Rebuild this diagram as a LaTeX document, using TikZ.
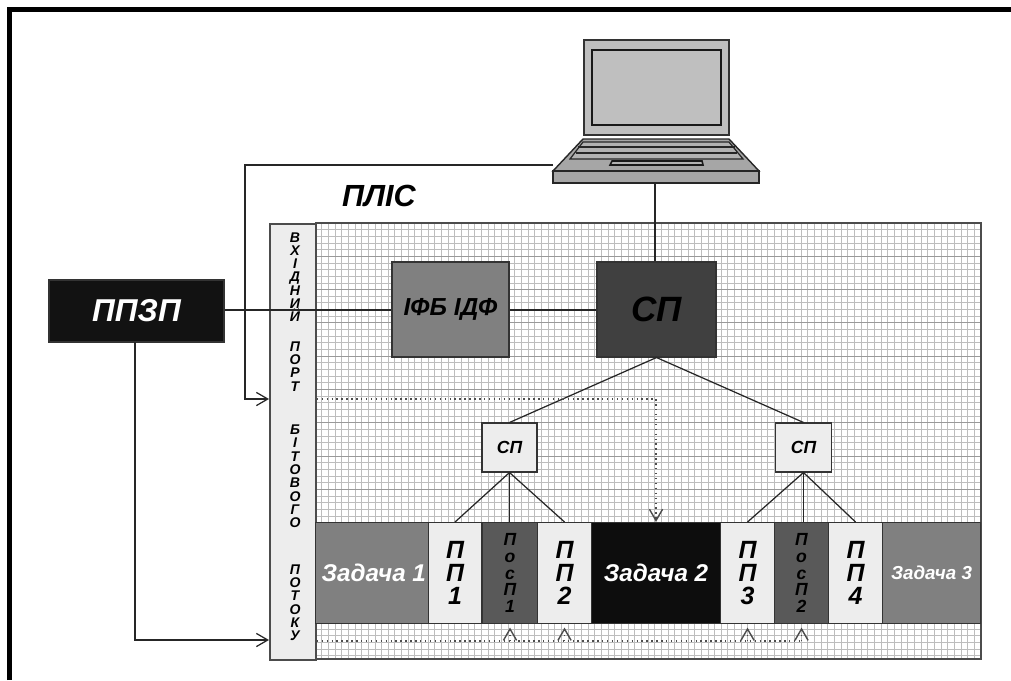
\documentclass[tikz,border=0pt]{standalone}
\usepackage{fontspec}
\setmainfont{Liberation Sans}
\usepackage{xcolor}
\usetikzlibrary{arrows.meta}
\definecolor{gridc}{gray}{0.74}
\definecolor{gridd}{gray}{0.6}
\tikzset{
blockbox/.style={draw=black!80,line width=0.6pt,inner sep=0pt,align=center,font=\bfseries\itshape},
lightbox/.style={blockbox,fill=black!7},
ppbox/.style={lightbox,minimum height=2.02cm,font=\fontsize{14.2}{13.2}\selectfont\bfseries\itshape,anchor=north west},
posbox/.style={blockbox,fill=black!65,minimum height=2.02cm,font=\fontsize{10}{9.6}\selectfont\bfseries\itshape,anchor=north west},
wire/.style={line width=0.7pt,draw=black!85},
dotline/.style={line width=0.8pt,draw=black!70,dotted},
opentip/.style={-{Straight Barb[length=6.5pt,width=7.5pt]}}
}
\begin{document}
\begin{tikzpicture}[x=0.02cm,y=-0.02cm]
\useasboundingbox (0,0) rectangle (1011,680);
\fill[white](0,0) rectangle (1011,680);
\draw[line width=3pt,black](9.5,680)--(9.5,9.5)--(1011,9.5);
% grid
\foreach \i in {0,...,100}
 \draw[gridc,line width=0.5pt](315+\i*6.66,223)--(315+\i*6.66,659);
\foreach \j in {0,...,65}
 \draw[gridc,line width=0.5pt](315,223+\j*6.66)--(981,223+\j*6.66);
\foreach \j in {5,10,...,60}
 \draw[gridd,line width=0.5pt](315,223+\j*6.66)--(981,223+\j*6.66);
\draw[black!70,line width=1pt](315,223)--(981,223)--(981,659)--(269,659);
% port
\node[lightbox,minimum width=0.92cm,minimum height=8.72cm,anchor=north west,draw=black!70,line width=1pt] (port) at (269,223) {};
\node[font=\fontsize{8}{7.56}\selectfont\bfseries\itshape,align=center,inner sep=0pt,anchor=north] (portname) at (295,232)
{В\\Х\\І\\Д\\Н\\И\\Й\\[9.2pt]П\\О\\Р\\Т\\[17.3pt]Б\\І\\Т\\О\\В\\О\\Г\\О\\[19pt]П\\О\\Т\\О\\К\\У};
% laptop
\draw[fill=black!25,draw=black!80,line width=0.8pt](584,40) rectangle (729,135);
\draw[fill=black!25,draw=black!90,line width=1pt](592,50) rectangle (721,125);
\draw[fill=black!35,draw=black!85,line width=0.8pt](583,139)--(729,139)--(759,171)--(553,171)--cycle;
\draw[fill=black!35,draw=black!85,line width=0.8pt](553,171) rectangle (759,183);
\draw[fill=black!30,draw=black!85,line width=0.7pt](583,142)--(729,142)--(743,159)--(570,159)--cycle;
\draw[draw=black!85,line width=1.1pt](578,147)--(735,147);
\draw[draw=black!85,line width=1.6pt](576,153)--(737,153);
\draw[fill=black!30,draw=black!90,line width=0.9pt](610,165)--(703,165)--(702,161)--(612,161)--cycle;
\coordinate (lapleft) at (553,165);
\coordinate (lapbot) at (655,183);
% blocks
\node[blockbox,fill=black!93,text=white,minimum width=3.5cm,minimum height=1.24cm,font=\fontsize{18}{20}\selectfont\bfseries\itshape] (ppzp) at (136.5,311) {ППЗП};
\node[blockbox,fill=black!50,minimum width=2.34cm,minimum height=1.9cm,font=\fontsize{14}{16}\selectfont\bfseries\itshape] (ifb) at (450.5,309.5) {ІФБ ІДФ};
\node[blockbox,fill=black!75,minimum width=2.38cm,minimum height=1.9cm,font=\fontsize{20}{24}\selectfont\bfseries\itshape] (spmain) at (656.5,309.5) {СП};
\node[lightbox,minimum width=1.1cm,minimum height=0.98cm,font=\fontsize{10}{12}\selectfont\bfseries\itshape] (spleft) at (509.5,447.5) {СП};
\node[lightbox,minimum width=1.12cm,minimum height=0.98cm,font=\fontsize{10}{12}\selectfont\bfseries\itshape] (spright) at (803.5,447.5) {СП};
% row of tasks
\node[blockbox,fill=black!50,text=white,minimum width=2.26cm,minimum height=2.02cm,font=\fontsize{13.8}{16}\selectfont\bfseries\itshape,anchor=north west] (task1) at (315,522) {\hspace{2pt}Задача 1};
\node[ppbox,minimum width=1.06cm] (pp1) at (428,522) {П\\П\\1};
\node[posbox,minimum width=1.1cm] (pos1) at (482,522) {П\\о\\с\\П\\1};
\node[ppbox,minimum width=1.08cm] (pp2) at (537,522) {П\\П\\2};
\node[blockbox,fill=black!95,text=white,minimum width=2.58cm,minimum height=2.02cm,font=\fontsize{13.8}{16}\selectfont\bfseries\itshape,anchor=north west] (task2) at (591,522) {Задача 2};
\node[ppbox,minimum width=1.08cm] (pp3) at (720,522) {П\\П\\3};
\node[posbox,minimum width=1.08cm] (pos2) at (774,522) {П\\о\\с\\П\\2};
\node[ppbox,minimum width=1.08cm] (pp4) at (828,522) {П\\П\\4};
\node[blockbox,fill=black!50,text=white,minimum width=1.96cm,minimum height=2.02cm,font=\fontsize{10.7}{13}\selectfont\bfseries\itshape,anchor=north west] (task3) at (882,522) {Задача 3};
\node[font=\fontsize{17.4}{20}\selectfont\bfseries\itshape,inner sep=0pt] (plis) at (379,196) {ПЛІС};
% connectors
\draw[wire](ppzp.east|-0,310)--(ifb.west|-0,310);
\draw[wire](ifb.east|-0,310)--(spmain.west|-0,310);
\draw[wire](lapbot)--(lapbot|-spmain.north);
\coordinate (portup) at (port.west|-0,399);
\coordinate (portlow) at (port.west|-0,640);
\draw[wire,opentip](lapleft)--(245,165)--(245,399)--(portup);
\draw[wire,opentip](135,342)--(135,640)--(portlow);
\draw[wire](spmain.south)--(spleft.north);
\draw[wire](spmain.south)--(spright.north);
\draw[wire](spleft.south)--(pp1.north);
\draw[wire](spleft.south)--(spleft.south|-pos1.north);
\draw[wire](spleft.south)--(pp2.north);
\draw[wire](spright.south)--(pp3.north);
\draw[wire](spright.south)--(spright.south|-pos2.north);
\draw[wire](spright.south)--(pp4.north);
% dotted links
\draw[dotline,opentip](port.east|-0,399)--(656,399)--(656,522);
\draw[dotline](port.east|-0,641)--(802,641);
\foreach \b in {pos1,pp2,pp3,pos2}
 \draw[dotline,opentip,shorten >=2pt](\b.south|-0,641)--(\b.south);
\end{tikzpicture}
\end{document}
